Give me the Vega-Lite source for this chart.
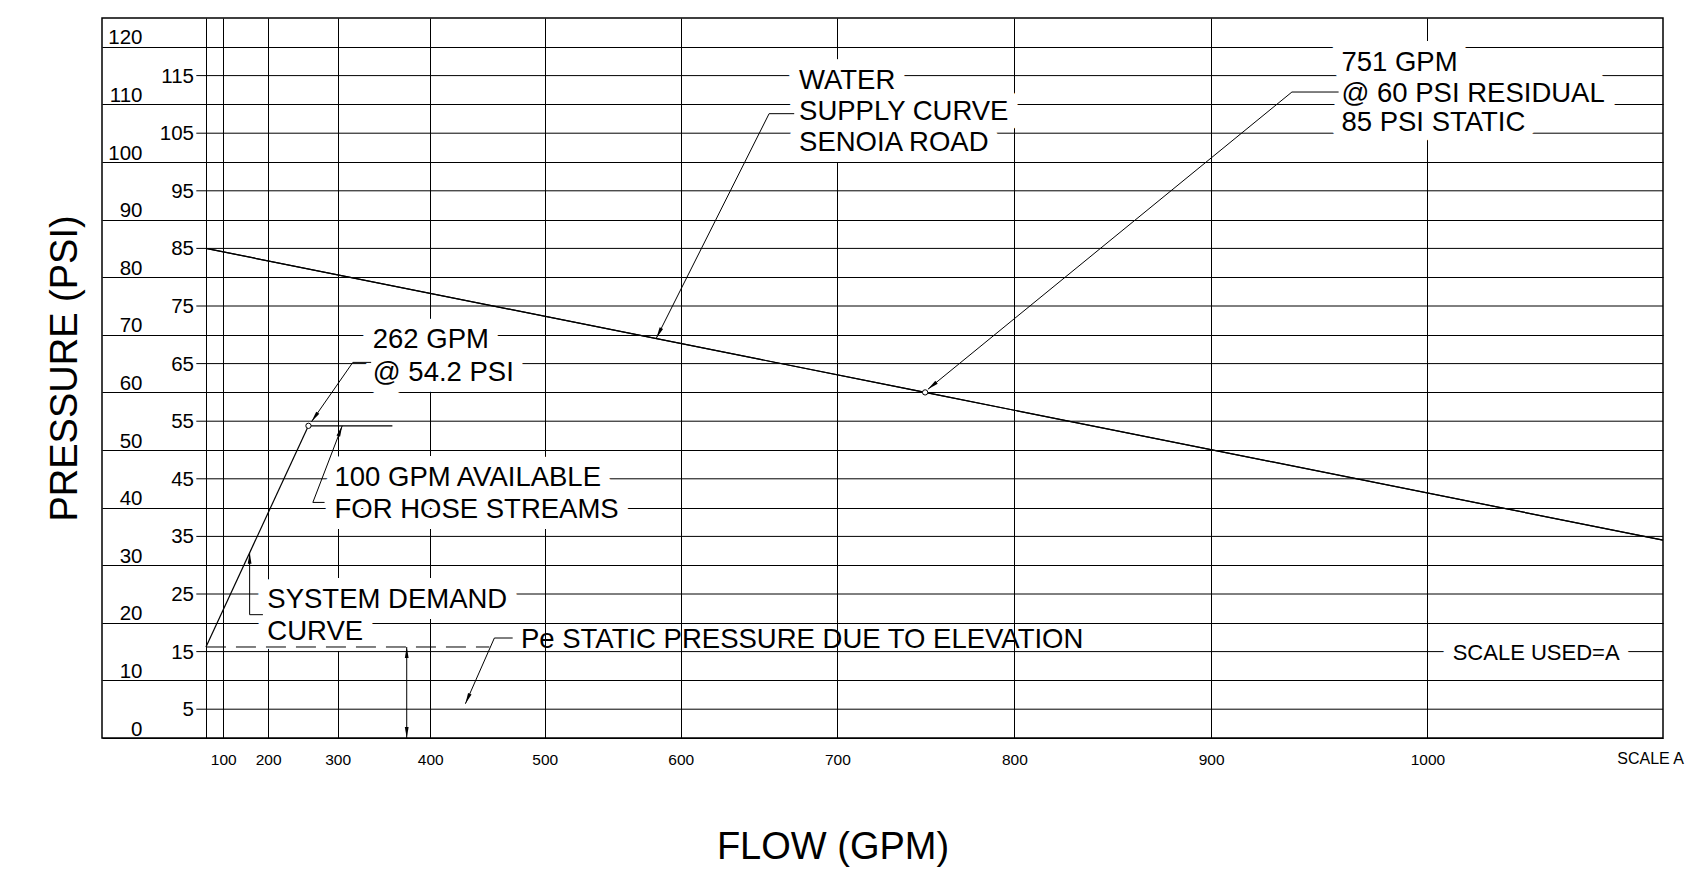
{
  "$schema": "https://vega.github.io/schema/vega-lite/v6.json",
  "width": 1561,
  "height": 720,
  "autosize": {"type": "none"},
  "padding": {"left": 102, "top": 18, "right": 30, "bottom": 140},
  "background": "white",
  "config": {
    "font": "Liberation Sans",
    "view": {"stroke": "black", "strokeWidth": 1.5},
    "text": {"font": "Liberation Sans", "color": "black"}
  },
  "datasets": {
    "oddTicks": [{"p": 5}, {"p": 15}, {"p": 25}, {"p": 35}, {"p": 45}, {"p": 55}, {"p": 65}, {"p": 75}, {"p": 85}, {"p": 95}, {"p": 105}, {"p": 115}],
    "supply": [{"q": 0, "p": 85}, {"q": 751, "p": 60}, {"q": 1100, "p": 34.35}],
    "demand": [{"q": 0, "p": 15.8}, {"q": 262, "p": 54.2}],
    "hose": [{"q": 262, "p": 54.2}, {"q": 362, "p": 54.2}],
    "static": [{"q": 0, "p": 15.8}, {"q": 454, "p": 15.8}],
    "points": [{"q": 262, "p": 54.2}, {"q": 751, "p": 60}],
    "leaders": [
      {"id": 1, "o": 1, "q": 673.7, "p": 108.39}, {"id": 1, "o": 2, "q": 658.0, "p": 108.39}, {"id": 1, "o": 3, "q": 583.2, "p": 69.44},
      {"id": 2, "o": 1, "q": 960.0, "p": 112.15}, {"id": 2, "o": 2, "q": 938.4, "p": 112.15}, {"id": 2, "o": 3, "q": 752.6, "p": 60.55},
      {"id": 3, "o": 1, "q": 339.1, "p": 65.21}, {"id": 3, "o": 2, "q": 318.2, "p": 65.21}, {"id": 3, "o": 3, "q": 266.1, "p": 54.9},
      {"id": 4, "o": 1, "q": 283.5, "p": 40.9}, {"id": 4, "o": 2, "q": 268.0, "p": 40.9}, {"id": 4, "o": 3, "q": 305.6, "p": 54.2},
      {"id": 5, "o": 1, "q": 190.7, "p": 21.41}, {"id": 5, "o": 2, "q": 165.2, "p": 21.41}, {"id": 5, "o": 3, "q": 165.2, "p": 32.17},
      {"id": 6, "o": 1, "q": 473.8, "p": 17.36}, {"id": 6, "o": 2, "q": 458.3, "p": 17.36}, {"id": 6, "o": 3, "q": 432.8, "p": 5.95},
      {"id": 7, "o": 1, "q": 376.8, "p": 15.8}, {"id": 7, "o": 2, "q": 376.8, "p": 0}
    ],
    "arrows": [
      {"q": 583.2, "p": 69.44, "angle": 206.7},
      {"q": 752.6, "p": 60.55, "angle": 231.1},
      {"q": 266.1, "p": 54.9, "angle": 214.9},
      {"q": 305.6, "p": 54.2, "angle": 21},
      {"q": 165.2, "p": 32.17, "angle": 0},
      {"q": 432.8, "p": 5.95, "angle": 203.8},
      {"q": 376.8, "p": 15.8, "angle": 0},
      {"q": 376.8, "p": 0, "angle": 180}
    ],
    "notes": [
      {"q": 676.7, "p": 112.73, "label": "WATER"},
      {"q": 676.7, "p": 107.34, "label": "SUPPLY CURVE"},
      {"q": 676.7, "p": 101.96, "label": "SENOIA ROAD"},
      {"q": 961.3, "p": 115.73, "label": "751 GPM"},
      {"q": 961.3, "p": 110.35, "label": "@ 60 PSI RESIDUAL"},
      {"q": 961.3, "p": 105.31, "label": "85 PSI STATIC"},
      {"q": 340.9, "p": 67.71, "label": "262 GPM"},
      {"q": 340.9, "p": 62.03, "label": "@ 54.2 PSI"},
      {"q": 296.1, "p": 43.68, "label": "100 GPM AVAILABLE"},
      {"q": 296.1, "p": 38.19, "label": "FOR HOSE STREAMS"},
      {"q": 198.5, "p": 22.57, "label": "SYSTEM DEMAND"},
      {"q": 198.5, "p": 16.94, "label": "CURVE"}
    ],
    "scaleNote": [{"q": 1011.1, "p": 14.81, "label": "SCALE USED=A"}],
    "peNote": [{"q": 480.7, "p": 15.68, "label": "Pe STATIC PRESSURE DUE TO ELEVATION"}],
    "scaleA": [{"q": 1100, "p": 0, "label": "SCALE A"}]
  },
  "layer": [
    {
      "data": {"name": "supply"},
      "mark": {"type": "line", "color": "black", "strokeWidth": 1.2},
      "encoding": {
        "x": {
          "field": "q",
          "type": "quantitative",
          "scale": {"type": "pow", "exponent": 1.85, "domain": [-264, 1100], "nice": false, "zero": false},
          "axis": {
            "title": "FLOW (GPM)",
            "values": [0, 100, 200, 300, 400, 500, 600, 700, 800, 900, 1000],
            "format": "d",
            "labelExpr": "datum.value == 0 ? '' : datum.label",
            "grid": true,
            "gridColor": "black",
            "gridWidth": 1,
            "gridOpacity": 1,
            "domain": false,
            "ticks": false,
            "tickSize": 0,
            "labelPadding": 14,
            "labelFontSize": 15.5,
            "labelColor": "black",
            "labelFont": "Liberation Sans",
            "labelFlush": false,
            "labelOverlap": false,
            "labelBound": false,
            "titleFont": "Liberation Sans",
            "titleFontSize": 38,
            "titleFontWeight": "normal",
            "titleColor": "black",
            "titleX": 730.5,
            "titleY": 109.3,
            "titleBaseline": "middle"
          }
        },
        "y": {
          "field": "p",
          "type": "quantitative",
          "scale": {"domain": [0, 125], "nice": false, "zero": true},
          "axis": {
            "title": "PRESSURE (PSI)",
            "values": [0, 10, 20, 30, 40, 50, 60, 70, 80, 90, 100, 110, 120],
            "format": "d",
            "grid": true,
            "gridColor": "black",
            "gridWidth": 1,
            "gridOpacity": 1,
            "domain": false,
            "ticks": false,
            "tickSize": 0,
            "labelPadding": -40,
            "labelAlign": "right",
            "labelBaseline": "alphabetic",
            "labelOffset": -3,
            "labelFontSize": 20.5,
            "labelColor": "black",
            "labelFont": "Liberation Sans",
            "labelOverlap": false,
            "labelBound": false,
            "labelFlush": false,
            "titleFont": "Liberation Sans",
            "titleFontSize": 38,
            "titleFontWeight": "normal",
            "titleColor": "black",
            "titleX": -37,
            "titleY": 350,
            "titleBaseline": "middle"
          }
        }
      }
    },
    {
      "data": {"name": "oddTicks"},
      "mark": {"type": "rule", "color": "black", "strokeWidth": 1},
      "encoding": {
        "x": {"datum": -73, "type": "quantitative", "scale": {"type": "pow", "exponent": 1.85, "domain": [-264, 1100], "nice": false, "zero": false}},
        "x2": {"datum": 1100},
        "y": {"field": "p", "type": "quantitative", "scale": {"domain": [0, 125], "nice": false, "zero": true}}
      }
    },
    {
      "data": {"name": "oddTicks"},
      "mark": {"type": "text", "align": "right", "baseline": "middle", "fontSize": 20.5, "dy": 1, "color": "black"},
      "encoding": {
        "x": {"datum": -82, "type": "quantitative", "scale": {"type": "pow", "exponent": 1.85, "domain": [-264, 1100], "nice": false, "zero": false}},
        "y": {"field": "p", "type": "quantitative", "scale": {"domain": [0, 125], "nice": false, "zero": true}},
        "text": {"field": "p", "type": "quantitative", "format": "d"}
      }
    },
    {
      "data": {"name": "notes"},
      "mark": {"type": "text", "align": "left", "baseline": "alphabetic", "fontSize": 27.5, "fill": "white", "stroke": "white", "strokeWidth": 22, "strokeJoin": "round"},
      "encoding": {
        "x": {"field": "q", "type": "quantitative", "scale": {"type": "pow", "exponent": 1.85, "domain": [-264, 1100], "nice": false, "zero": false}},
        "y": {"field": "p", "type": "quantitative", "scale": {"domain": [0, 125], "nice": false, "zero": true}},
        "text": {"field": "label"}
      }
    },
    {
      "data": {"name": "scaleNote"},
      "mark": {"type": "text", "align": "left", "baseline": "middle", "fontSize": 22, "fill": "white", "stroke": "white", "strokeWidth": 22, "strokeJoin": "round"},
      "encoding": {
        "x": {"field": "q", "type": "quantitative", "scale": {"type": "pow", "exponent": 1.85, "domain": [-264, 1100], "nice": false, "zero": false}},
        "y": {"field": "p", "type": "quantitative", "scale": {"domain": [0, 125], "nice": false, "zero": true}},
        "text": {"field": "label"}
      }
    },
    {
      "data": {"name": "supply"},
      "mark": {"type": "line", "color": "black", "strokeWidth": 1.2},
      "encoding": {
        "x": {"field": "q", "type": "quantitative", "scale": {"type": "pow", "exponent": 1.85, "domain": [-264, 1100], "nice": false, "zero": false}},
        "y": {"field": "p", "type": "quantitative", "scale": {"domain": [0, 125], "nice": false, "zero": true}}
      }
    },
    {
      "data": {"name": "demand"},
      "mark": {"type": "line", "color": "black", "strokeWidth": 1.2},
      "encoding": {
        "x": {"field": "q", "type": "quantitative", "scale": {"type": "pow", "exponent": 1.85, "domain": [-264, 1100], "nice": false, "zero": false}},
        "y": {"field": "p", "type": "quantitative", "scale": {"domain": [0, 125], "nice": false, "zero": true}}
      }
    },
    {
      "data": {"name": "hose"},
      "mark": {"type": "line", "color": "black", "strokeWidth": 1.2},
      "encoding": {
        "x": {"field": "q", "type": "quantitative", "scale": {"type": "pow", "exponent": 1.85, "domain": [-264, 1100], "nice": false, "zero": false}},
        "y": {"field": "p", "type": "quantitative", "scale": {"domain": [0, 125], "nice": false, "zero": true}}
      }
    },
    {
      "data": {"name": "static"},
      "mark": {"type": "line", "color": "black", "strokeWidth": 1, "strokeDash": [20, 10]},
      "encoding": {
        "x": {"field": "q", "type": "quantitative", "scale": {"type": "pow", "exponent": 1.85, "domain": [-264, 1100], "nice": false, "zero": false}},
        "y": {"field": "p", "type": "quantitative", "scale": {"domain": [0, 125], "nice": false, "zero": true}}
      }
    },
    {
      "data": {"name": "leaders"},
      "mark": {"type": "line", "color": "black", "strokeWidth": 1},
      "encoding": {
        "x": {"field": "q", "type": "quantitative", "scale": {"type": "pow", "exponent": 1.85, "domain": [-264, 1100], "nice": false, "zero": false}},
        "y": {"field": "p", "type": "quantitative", "scale": {"domain": [0, 125], "nice": false, "zero": true}},
        "detail": {"field": "id"},
        "order": {"field": "o", "type": "quantitative"}
      }
    },
    {
      "data": {"name": "arrows"},
      "mark": {"type": "point", "shape": "M0,0L-0.38,2.2L0.38,2.2Z", "filled": true, "fill": "black", "strokeWidth": 0, "size": 100, "opacity": 1},
      "encoding": {
        "x": {"field": "q", "type": "quantitative", "scale": {"type": "pow", "exponent": 1.85, "domain": [-264, 1100], "nice": false, "zero": false}},
        "y": {"field": "p", "type": "quantitative", "scale": {"domain": [0, 125], "nice": false, "zero": true}},
        "angle": {"field": "angle", "type": "quantitative", "scale": null}
      }
    },
    {
      "data": {"name": "points"},
      "mark": {"type": "point", "shape": "circle", "filled": true, "fill": "white", "stroke": "black", "strokeWidth": 1, "size": 28, "opacity": 1},
      "encoding": {
        "x": {"field": "q", "type": "quantitative", "scale": {"type": "pow", "exponent": 1.85, "domain": [-264, 1100], "nice": false, "zero": false}},
        "y": {"field": "p", "type": "quantitative", "scale": {"domain": [0, 125], "nice": false, "zero": true}}
      }
    },
    {
      "data": {"name": "notes"},
      "mark": {"type": "text", "align": "left", "baseline": "alphabetic", "fontSize": 27.5, "color": "black"},
      "encoding": {
        "x": {"field": "q", "type": "quantitative", "scale": {"type": "pow", "exponent": 1.85, "domain": [-264, 1100], "nice": false, "zero": false}},
        "y": {"field": "p", "type": "quantitative", "scale": {"domain": [0, 125], "nice": false, "zero": true}},
        "text": {"field": "label"}
      }
    },
    {
      "data": {"name": "scaleNote"},
      "mark": {"type": "text", "align": "left", "baseline": "middle", "fontSize": 22, "color": "black"},
      "encoding": {
        "x": {"field": "q", "type": "quantitative", "scale": {"type": "pow", "exponent": 1.85, "domain": [-264, 1100], "nice": false, "zero": false}},
        "y": {"field": "p", "type": "quantitative", "scale": {"domain": [0, 125], "nice": false, "zero": true}},
        "text": {"field": "label"}
      }
    },
    {
      "data": {"name": "peNote"},
      "mark": {"type": "text", "align": "left", "baseline": "alphabetic", "fontSize": 27.5, "color": "black"},
      "encoding": {
        "x": {"field": "q", "type": "quantitative", "scale": {"type": "pow", "exponent": 1.85, "domain": [-264, 1100], "nice": false, "zero": false}},
        "y": {"field": "p", "type": "quantitative", "scale": {"domain": [0, 125], "nice": false, "zero": true}},
        "text": {"field": "label"}
      }
    },
    {
      "data": {"name": "scaleA"},
      "mark": {"type": "text", "align": "right", "baseline": "top", "fontSize": 16, "dx": 21, "dy": 12.5, "color": "black"},
      "encoding": {
        "x": {"field": "q", "type": "quantitative", "scale": {"type": "pow", "exponent": 1.85, "domain": [-264, 1100], "nice": false, "zero": false}},
        "y": {"field": "p", "type": "quantitative", "scale": {"domain": [0, 125], "nice": false, "zero": true}},
        "text": {"field": "label"}
      }
    }
  ]
}
